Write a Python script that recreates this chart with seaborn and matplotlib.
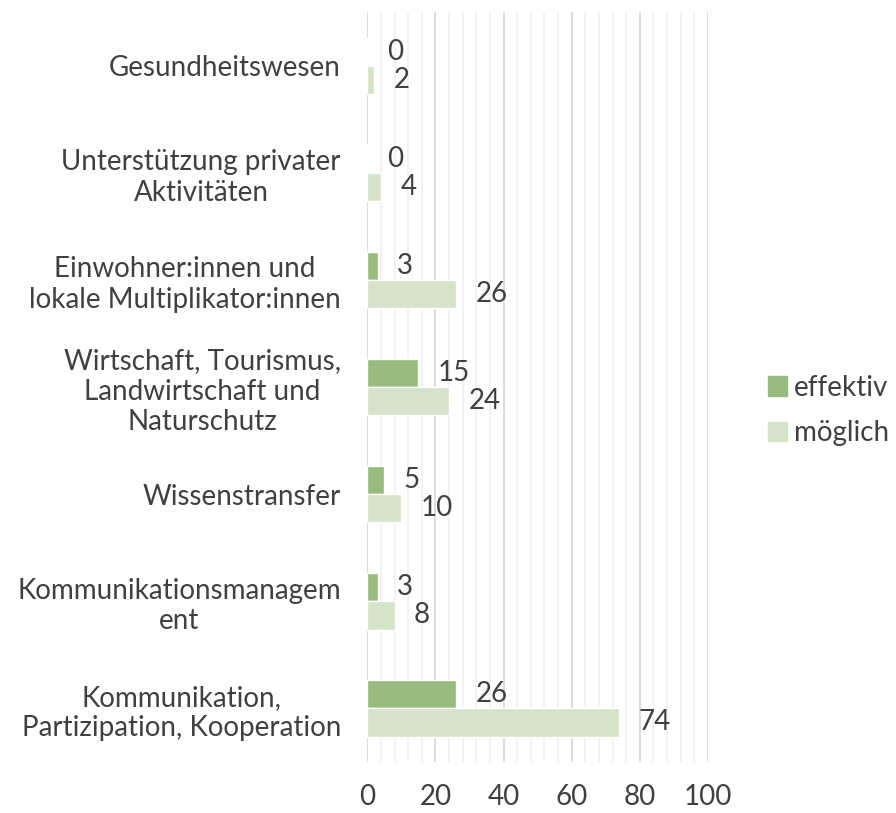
import matplotlib
matplotlib.use("Agg")
import matplotlib.pyplot as plt
from matplotlib.ticker import MultipleLocator
from matplotlib.patches import Patch
import seaborn as sns
import pandas as pd

# Data
categories = [
    "Gesundheitswesen",
    "Unterstützung privater\nAktivitäten",
    "Einwohner:innen und\nlokale Multiplikator:innen",
    "Wirtschaft, Tourismus,\nLandwirtschaft und\nNaturschutz",
    "Wissenstransfer",
    "Kommunikationsmanagem\nent",
    "Kommunikation,\nPartizipation, Kooperation",
]
effektiv = [0, 0, 3, 15, 5, 3, 26]
moeglich = [2, 4, 26, 24, 10, 8, 74]
series = ["effektiv", "möglich"]
colors = ["#98BC7D", "#D5E3C8"]

df = pd.DataFrame({
    "Kategorie": categories * 2,
    "Wert": effektiv + moeglich,
    "Serie": [series[0]] * len(categories) + [series[1]] * len(categories),
})

sns.set_style("white")
plt.rcParams["font.family"] = ["Lato", "DejaVu Sans"]
text_color = "#404040"
fs = 20

fig = plt.figure(figsize=(8.96, 8.13), dpi=100)
ax = fig.add_axes([0.41, 0.063, 0.38, 0.922])

sns.barplot(data=df, y="Kategorie", x="Wert", hue="Serie", order=categories,
            hue_order=series, palette=colors, orient="h", width=0.53,
            gap=0, saturation=1, legend=False, ax=ax, zorder=3)

# value labels
for container in ax.containers:
    ax.bar_label(container, padding=14, fontsize=fs, color=text_color)

ax.set_xlim(0, 100)
ax.set_ylim(6.5, -0.5)
ax.xaxis.set_major_locator(MultipleLocator(20))
ax.xaxis.set_minor_locator(MultipleLocator(4))
ax.grid(axis="x", which="major", color="#D9D9D9", linewidth=1.3, zorder=0)
ax.grid(axis="x", which="minor", color="#EFEFEF", linewidth=1.1, zorder=0)
ax.set_axisbelow(True)
for s in ax.spines.values():
    s.set_visible(False)

ax.set_xlabel("")
ax.set_ylabel("")
ax.tick_params(axis="both", which="both", length=0, labelsize=fs, colors=text_color)
ax.tick_params(axis="y", pad=19)
ax.tick_params(axis="x", pad=16)
for t in ax.get_yticklabels():
    t.set_multialignment("center")

handles = [Patch(color=c, label=s) for c, s in zip(colors, series)]
fig.legend(handles=handles, loc="center left", bbox_to_anchor=(0.829, 0.495),
           frameon=False, fontsize=fs, labelcolor=text_color,
           handlelength=0.7, handleheight=0.7, handletextpad=0.25,
           labelspacing=0.7)

fig.savefig("out.png", dpi=100)
